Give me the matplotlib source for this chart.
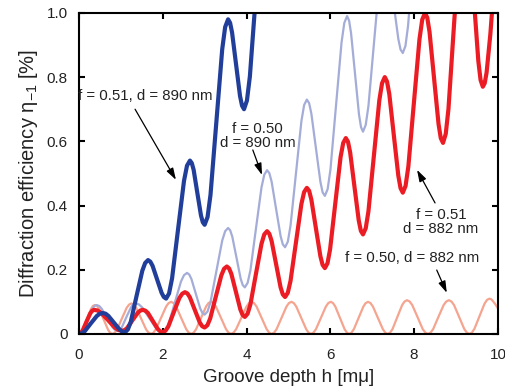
import matplotlib
matplotlib.use('Agg')
import matplotlib.pyplot as plt

plt.rcParams['font.family'] = ['Liberation Sans', 'DejaVu Sans']
plt.rcParams['mathtext.fontset'] = 'custom'
plt.rcParams['mathtext.rm'] = 'Liberation Sans'

# f = 0.51, d = 890 nm (dark blue)
x_b51 = [0, 0.071, 0.143, 0.285, 0.428, 0.499, 0.57, 0.636, 0.703, 0.835, 0.968, 1.034,
         1.1, 1.169, 1.238, 1.375, 1.513, 1.581, 1.65, 1.704, 1.758, 1.865, 1.973, 2.026,
         2.08, 2.151, 2.223, 2.365, 2.508, 2.579, 2.65, 2.694, 2.738, 2.825, 2.913, 2.956,
         3.0, 3.07, 3.14, 3.28, 3.42, 3.49, 3.56, 3.608, 3.655, 3.75, 3.845, 3.893,
         3.94, 4.01, 4.08, 4.22, 4.36, 4.43, 4.5]
y_b51 = [0, 0.002, 0.009, 0.033, 0.056, 0.063, 0.065, 0.063, 0.056, 0.035, 0.014, 0.007,
         0.005, 0.014, 0.038, 0.118, 0.197, 0.221, 0.23, 0.225, 0.212, 0.17, 0.128, 0.115,
         0.11, 0.126, 0.173, 0.325, 0.477, 0.524, 0.54, 0.532, 0.511, 0.44, 0.369, 0.348,
         0.34, 0.364, 0.433, 0.66, 0.887, 0.956, 0.98, 0.969, 0.939, 0.84, 0.741, 0.711,
         0.70, 0.727, 0.802, 1.05, 1.298, 1.373, 1.4]

# f = 0.50, d = 890 nm (light blue)
x_b50 = [0, 0.053, 0.105, 0.21, 0.315, 0.368, 0.42, 0.483, 0.545, 0.67, 0.795, 0.858,
         0.92, 0.974, 1.028, 1.135, 1.243, 1.296, 1.35, 1.431, 1.513, 1.675, 1.838, 1.919,
         2.0, 2.073, 2.145, 2.29, 2.435, 2.508, 2.58, 2.633, 2.685, 2.79, 2.895, 2.948,
         3.0, 3.07, 3.14, 3.28, 3.42, 3.49, 3.56, 3.61, 3.66, 3.76, 3.86, 3.91,
         3.96, 4.026, 4.093, 4.225, 4.358, 4.424, 4.49, 4.544, 4.598, 4.705, 4.813, 4.866,
         4.92, 4.985, 5.05, 5.18, 5.31, 5.375, 5.44, 5.494, 5.548, 5.655, 5.763, 5.816,
         5.87, 5.936, 6.003, 6.135, 6.268, 6.334, 6.4, 6.448, 6.495, 6.59, 6.685, 6.733,
         6.78, 6.845, 6.91, 7.04, 7.17, 7.235, 7.3, 7.354, 7.408, 7.515, 7.623, 7.676,
         7.73, 7.793, 7.855, 7.98, 8.105, 8.168, 8.23]
y_b50 = [0, 0.003, 0.013, 0.045, 0.077, 0.087, 0.09, 0.087, 0.078, 0.05, 0.022, 0.013,
         0.01, 0.013, 0.022, 0.053, 0.083, 0.092, 0.095, 0.092, 0.082, 0.05, 0.018, 0.008,
         0.005, 0.012, 0.032, 0.098, 0.163, 0.183, 0.19, 0.185, 0.171, 0.125, 0.079, 0.065,
         0.06, 0.07, 0.099, 0.195, 0.291, 0.32, 0.33, 0.323, 0.303, 0.238, 0.172, 0.152,
         0.145, 0.159, 0.198, 0.328, 0.457, 0.496, 0.51, 0.501, 0.475, 0.39, 0.305, 0.279,
         0.27, 0.287, 0.337, 0.5, 0.663, 0.713, 0.73, 0.719, 0.686, 0.58, 0.474, 0.441,
         0.43, 0.451, 0.512, 0.71, 0.908, 0.969, 0.99, 0.976, 0.937, 0.81, 0.683, 0.644,
         0.63, 0.651, 0.71, 0.903, 1.095, 1.154, 1.175, 1.164, 1.131, 1.025, 0.919, 0.886,
         0.875, 0.897, 0.959, 1.163, 1.366, 1.428, 1.45]

# f = 0.51, d = 882 nm (red)
x_r51 = [0, 0.045, 0.09, 0.18, 0.27, 0.315, 0.36, 0.444, 0.528, 0.695, 0.863, 0.946,
         1.03, 1.093, 1.155, 1.28, 1.405, 1.468, 1.53, 1.589, 1.648, 1.765, 1.883, 1.941,
         2.0, 2.066, 2.133, 2.265, 2.398, 2.464, 2.53, 2.589, 2.648, 2.765, 2.883, 2.941,
         3.0, 3.066, 3.133, 3.265, 3.398, 3.464, 3.53, 3.584, 3.638, 3.745, 3.853, 3.906,
         3.96, 4.026, 4.093, 4.225, 4.358, 4.424, 4.49, 4.544, 4.598, 4.705, 4.813, 4.866,
         4.92, 4.985, 5.05, 5.18, 5.31, 5.375, 5.44, 5.494, 5.548, 5.655, 5.763, 5.816,
         5.87, 5.933, 5.995, 6.12, 6.245, 6.308, 6.37, 6.421, 6.473, 6.575, 6.678, 6.729,
         6.78, 6.845, 6.91, 7.04, 7.17, 7.235, 7.3, 7.354, 7.408, 7.515, 7.623, 7.676,
         7.73, 7.796, 7.863, 7.995, 8.128, 8.194, 8.26, 8.314, 8.368, 8.475, 8.583, 8.636,
         8.69, 8.755, 8.82, 8.95, 9.08, 9.145, 9.21, 9.264, 9.318, 9.425, 9.533, 9.586,
         9.64, 9.685, 9.73, 9.82, 9.91, 10.0]
y_r51 = [0, 0.003, 0.011, 0.038, 0.064, 0.072, 0.075, 0.073, 0.066, 0.043, 0.019, 0.012,
         0.01, 0.012, 0.019, 0.043, 0.066, 0.073, 0.075, 0.072, 0.065, 0.04, 0.015, 0.008,
         0.005, 0.01, 0.023, 0.068, 0.112, 0.125, 0.13, 0.126, 0.114, 0.075, 0.036, 0.024,
         0.02, 0.027, 0.048, 0.115, 0.182, 0.203, 0.21, 0.204, 0.187, 0.132, 0.076, 0.059,
         0.053, 0.063, 0.092, 0.187, 0.281, 0.31, 0.32, 0.312, 0.29, 0.218, 0.145, 0.123,
         0.115, 0.128, 0.165, 0.285, 0.405, 0.442, 0.455, 0.446, 0.418, 0.33, 0.242, 0.215,
         0.205, 0.22, 0.264, 0.408, 0.551, 0.595, 0.61, 0.599, 0.566, 0.46, 0.354, 0.321,
         0.31, 0.329, 0.382, 0.555, 0.728, 0.781, 0.80, 0.786, 0.747, 0.62, 0.493, 0.454,
         0.44, 0.461, 0.522, 0.72, 0.918, 0.979, 1.0, 0.985, 0.941, 0.798, 0.654, 0.61,
         0.595, 0.623, 0.701, 0.958, 1.214, 1.292, 1.32, 1.299, 1.24, 1.045, 0.85, 0.791,
         0.77, 0.781, 0.814, 0.934, 1.092, 1.242]

# f = 0.50, d = 882 nm (salmon)
x_r50 = [0, 0.048, 0.095, 0.19, 0.285, 0.333, 0.38, 0.433, 0.485, 0.59, 0.695, 0.748,
         0.8, 0.856, 0.913, 1.025, 1.138, 1.194, 1.25, 1.309, 1.368, 1.485, 1.603, 1.661,
         1.72, 1.78, 1.84, 1.96, 2.08, 2.14, 2.2, 2.26, 2.32, 2.44, 2.56, 2.62,
         2.68, 2.739, 2.798, 2.915, 3.033, 3.091, 3.15, 3.21, 3.27, 3.39, 3.51, 3.57,
         3.63, 3.691, 3.753, 3.875, 3.998, 4.059, 4.12, 4.18, 4.24, 4.36, 4.48, 4.54,
         4.6, 4.659, 4.718, 4.835, 4.953, 5.011, 5.07, 5.129, 5.188, 5.305, 5.423, 5.481,
         5.54, 5.599, 5.658, 5.775, 5.893, 5.951, 6.01, 6.065, 6.12, 6.23, 6.34, 6.395,
         6.45, 6.506, 6.563, 6.675, 6.788, 6.844, 6.9, 6.959, 7.018, 7.135, 7.253, 7.311,
         7.37, 7.428, 7.485, 7.6, 7.715, 7.773, 7.83, 7.893, 7.955, 8.08, 8.205, 8.268,
         8.33, 8.393, 8.455, 8.58, 8.705, 8.768, 8.83, 8.891, 8.953, 9.075, 9.198, 9.259,
         9.32, 9.38, 9.44, 9.56, 9.68, 9.74, 9.8, 9.84, 9.87, 9.93, 10.0]
y_r50 = [0, 0.003, 0.013, 0.045, 0.077, 0.087, 0.09, 0.087, 0.077, 0.045, 0.013, 0.003,
         0, 0.004, 0.014, 0.048, 0.081, 0.091, 0.095, 0.091, 0.081, 0.048, 0.014, 0.004,
         0, 0.004, 0.015, 0.05, 0.085, 0.096, 0.1, 0.096, 0.085, 0.05, 0.015, 0.004,
         0, 0.004, 0.015, 0.05, 0.085, 0.096, 0.1, 0.096, 0.085, 0.05, 0.015, 0.004,
         0, 0.004, 0.015, 0.05, 0.085, 0.096, 0.1, 0.096, 0.085, 0.05, 0.015, 0.004,
         0, 0.004, 0.015, 0.05, 0.085, 0.096, 0.1, 0.096, 0.085, 0.05, 0.015, 0.004,
         0, 0.004, 0.015, 0.05, 0.085, 0.096, 0.1, 0.096, 0.085, 0.05, 0.015, 0.004,
         0, 0.004, 0.015, 0.05, 0.085, 0.096, 0.1, 0.096, 0.085, 0.05, 0.015, 0.004,
         0, 0.004, 0.015, 0.053, 0.09, 0.101, 0.105, 0.101, 0.09, 0.053, 0.015, 0.004,
         0, 0.004, 0.015, 0.053, 0.09, 0.101, 0.105, 0.101, 0.09, 0.053, 0.015, 0.004,
         0, 0.004, 0.016, 0.055, 0.094, 0.106, 0.11, 0.108, 0.104, 0.094, 0.08]

x_ticks = [0, 2, 4, 6, 8, 10]
y_ticks = [0, 0.2, 0.4, 0.6, 0.8, 1.0]
y_ticklabels = ['0', '0.2', '0.4', '0.6', '0.8', '1.0']

fig = plt.figure(figsize=(5.06, 3.91), dpi=100)
ax = fig.add_axes([0.156, 0.146, 0.828, 0.821])

line_kw = dict(solid_joinstyle='round', solid_capstyle='round')
ax.plot(x_r50, y_r50, color='#f5a48f', lw=1.6, **line_kw)
ax.plot(x_b50, y_b50, color='#a4acd8', lw=1.6, **line_kw)
ax.plot(x_r51, y_r51, color='#ec1c24', lw=3.0, **line_kw)
ax.plot(x_b51, y_b51, color='#213f9a', lw=3.0, **line_kw)

ax.set_xlim(0, 10)
ax.set_ylim(0, 1.0)
ax.set_xticks(x_ticks)
ax.set_yticks(y_ticks)
ax.set_yticklabels(y_ticklabels)
ax.tick_params(direction='in', top=True, right=True, length=4, width=1.5, labelsize=11,
               labelcolor='#222222')
ax.tick_params(axis='x', pad=10)
ax.tick_params(axis='y', pad=8)
for s in ax.spines.values():
    s.set_linewidth(1.5)

ax.set_xlabel('Groove depth h [mμ]', fontsize=13.5, color='#222222', labelpad=5)
ax.set_ylabel('Diffraction efficiency η$_{-1}$ [%]', fontsize=14.5, color='#222222', labelpad=5)

arrow = dict(arrowstyle='-|>,head_length=0.7,head_width=0.22', color='black', lw=0.9,
             shrinkA=0, shrinkB=0)
txt = dict(fontsize=10.8, color='#222222', ha='center', va='center')

ax.annotate('', xy=(2.315, 0.48), xytext=(1.34, 0.70), arrowprops=arrow)
ax.text(1.575, 0.741, 'f = 0.51, d = 890 nm', **txt)

ax.annotate('', xy=(4.37, 0.495), xytext=(4.15, 0.573), arrowprops=arrow)
ax.text(4.26, 0.617, 'f = 0.50\nd = 890 nm', linespacing=1.0, **txt)

ax.annotate('', xy=(8.07, 0.511), xytext=(8.5, 0.408), arrowprops=arrow)
ax.text(8.64, 0.349, 'f = 0.51\nd = 882 nm', linespacing=1.0, **txt)

ax.annotate('', xy=(8.78, 0.128), xytext=(8.54, 0.199), arrowprops=arrow)
ax.text(7.95, 0.237, 'f = 0.50, d = 882 nm', **txt)

fig.savefig('out.png', dpi=100)
